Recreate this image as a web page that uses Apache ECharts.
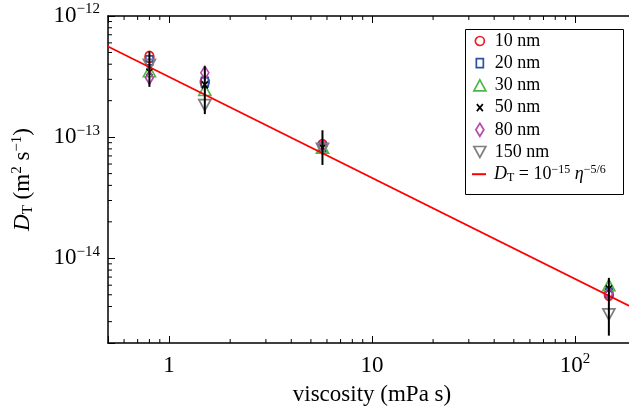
<!DOCTYPE html>
<html><head><meta charset="utf-8">
<script src="https://cdn.jsdelivr.net/npm/echarts@6/dist/echarts.min.js"></script>
<style>html,body{margin:0;padding:0;background:#fff}#c{width:629px;height:407px}</style>
</head><body><div id="c"></div>
<script>
// ---- data ----
const viscosity = [0.8, 1.5, 5.7, 147];
const dt10nm  = [4.6e-13, 2.85e-13, 8.6e-14, 5.0e-15];
const dt20nm  = [4.3e-13, 2.85e-13, 8.3e-14, 5.2e-15];
const dt30nm  = [3.5e-13, 2.45e-13, 8.2e-14, 6.0e-15];
const dt50nm  = [3.45e-13, 2.7e-13, 8.2e-14, 5.6e-15];
const dt80nm  = [3.1e-13, 3.4e-13, 8.4e-14, 5.1e-15];
const dt150nm = [3.95e-13, 1.84e-13, 8.0e-14, 3.45e-15];
const errLow  = [2.6e-13, 1.55e-13, 5.9e-14, 2.3e-15];
const errHigh = [5.1e-13, 3.85e-13, 1.14e-13, 6.9e-15];
const fitX = [0.5, 200];
const fitY = [5.6e-13, 3.8e-15];
const seriesNames = ['10 nm', '20 nm', '30 nm', '50 nm', '80 nm', '150 nm'];
const fitName = 'fit';
const xMajorTicks = [1, 10, 100];
const yMajorTicks = [1e-14, 1e-13, 1e-12];
const xMinorTicks = [0.6, 0.7, 0.8, 0.9, 2, 3, 4, 5, 6, 7, 8, 9, 20, 30, 40, 50, 60, 70, 80, 90];
const yMinorTicks = [3e-15, 4e-15, 5e-15, 6e-15, 7e-15, 8e-15, 9e-15,
  2e-14, 3e-14, 4e-14, 5e-14, 6e-14, 7e-14, 8e-14, 9e-14,
  2e-13, 3e-13, 4e-13, 5e-13, 6e-13, 7e-13, 8e-13, 9e-13];

// ---- styling ----
const FONT = "'Liberation Serif', 'Times New Roman', serif";
const seriesValues = [dt10nm, dt20nm, dt30nm, dt50nm, dt80nm, dt150nm];
const markerStyles = [
  { symbol: 'circle', size: [9, 11], color: '#ee1d23' },
  { symbol: 'rect', size: [7, 9], color: '#2d4fa6' },
  { symbol: 'triangle', size: [12, 11], color: '#4cb848' },
  { symbol: 'path://M0,0L6,7M6,0L0,7', size: [6, 7], color: '#000000' },
  { symbol: 'diamond', size: [8, 13], color: '#b44aae' },
  { symbol: 'path://M0,0L12,0L6,11Z', size: [12, 11], color: '#7f7f7f' }
];

function findMajor(v, majors) {
  for (const m of majors) { if (Math.abs(v - m) / m < 1e-6) return m; }
  return null;
}
function xLabel(v) {
  const m = findMajor(v, xMajorTicks);
  if (m === null) return '';
  const e = Math.round(Math.log10(m));
  if (e === 0) return '{b|1}';
  if (e === 1) return '{b|10}';
  return '{b|10}{s|' + e + '}';
}
function yLabel(v) {
  const m = findMajor(v, yMajorTicks);
  if (m === null) return '';
  const e = Math.round(Math.log10(m));
  return '{b|10}{s|\u2212' + (-e) + '}';
}
const labelRich = {
  b: { fontSize: 23, fontFamily: FONT, color: '#000', lineHeight: 28 },
  s: { fontSize: 15, fontFamily: FONT, color: '#000', lineHeight: 15, verticalAlign: 'top' }
};

function tickRenderer(dir) {
  return function (params, api) {
    const cs = params.coordSys;
    const p = api.coord([api.value(0), api.value(1)]);
    const st = { stroke: '#000', lineWidth: 1 };
    if (dir === 'x') {
      return { type: 'group', children: [
        { type: 'line', shape: { x1: p[0], y1: cs.y + cs.height, x2: p[0], y2: cs.y + cs.height - 4 }, style: st },
        { type: 'line', shape: { x1: p[0], y1: cs.y, x2: p[0], y2: cs.y + 4 }, style: st }
      ] };
    }
    return { type: 'group', children: [
      { type: 'line', shape: { x1: cs.x, y1: p[1], x2: cs.x + 4, y2: p[1] }, style: st },
      { type: 'line', shape: { x1: cs.x + cs.width, y1: p[1], x2: cs.x + cs.width - 4, y2: p[1] }, style: st }
    ] };
  };
}

const series = [];
seriesNames.forEach((name, i) => {
  const ms = markerStyles[i];
  series.push({
    name: name, type: 'scatter', xAxisIndex: 0, yAxisIndex: 0,
    symbol: ms.symbol, symbolSize: ms.size,
    itemStyle: { color: 'transparent', borderColor: ms.color, borderWidth: 1.7, opacity: 1 },
    emphasis: { disabled: true },
    data: viscosity.map((x, k) => [x, seriesValues[i][k]]),
    z: 2
  });
});
series.push({
  name: fitName, type: 'line', xAxisIndex: 0, yAxisIndex: 0,
  symbol: 'none', showSymbol: false, lineStyle: { color: '#ff0000', width: 1.8 },
  itemStyle: { color: '#ff0000' },
  data: fitX.map((x, k) => [x, fitY[k]]), z: 3, silent: true
});
series.push({
  type: 'custom', name: 'errorbars', xAxisIndex: 0, yAxisIndex: 0, z: 4, silent: true,
  data: viscosity.map((x, k) => [x, errLow[k], errHigh[k]]),
  encode: { x: 0, y: [1, 2] },
  renderItem: function (params, api) {
    const lo = api.coord([api.value(0), api.value(1)]);
    const hi = api.coord([api.value(0), api.value(2)]);
    return { type: 'line', shape: { x1: lo[0], y1: lo[1], x2: hi[0], y2: hi[1] }, style: { stroke: '#000', lineWidth: 2 } };
  }
});
series.push({
  type: 'custom', name: 'xminor', silent: true, z: 5, clip: false,
  data: xMinorTicks.map(v => [v, 1e-13]), encode: { x: 0, y: 1 },
  renderItem: tickRenderer('x')
});
series.push({
  type: 'custom', name: 'yminor', silent: true, z: 5, clip: false,
  data: yMinorTicks.map(v => [1, v]), encode: { x: 0, y: 1 },
  renderItem: tickRenderer('y')
});

// ---- legend: one row per entry ----
const legendRich = {
  i: { fontStyle: 'italic', fontSize: 18, fontFamily: FONT, lineHeight: 20, color: '#000' },
  sub: { fontSize: 12, fontFamily: FONT, lineHeight: 20, verticalAlign: 'bottom', color: '#000' },
  sup: { fontSize: 12, fontFamily: FONT, lineHeight: 12, verticalAlign: 'top', color: '#000' },
  r: { fontSize: 18, fontFamily: FONT, lineHeight: 20, color: '#000' }
};
const legendRows = seriesNames.concat([fitName]);
const legends = legendRows.map((name, i) => {
  const isFit = i === 6;
  const w = isFit ? 14 : markerStyles[i].size[0];
  const h = isFit ? 2 : markerStyles[i].size[1];
  const yc = 41 + i * 22.2;
  return {
    show: true, orient: 'vertical', left: 479 - w / 2, top: yc - 10, padding: 0,
    itemWidth: w, itemHeight: h, selectedMode: false, symbolKeepAspect: false,
    data: [isFit
      ? { name: name, icon: 'rect', itemStyle: { color: '#ff0000', borderWidth: 0 } }
      : { name: name, icon: markerStyles[i].symbol }],
    itemStyle: { borderWidth: 1.7 },
    textStyle: { fontSize: 18, fontFamily: FONT, color: '#000', lineHeight: 20, padding: [0, 0, 0, 10 - w / 2], rich: legendRich },
    formatter: isFit
      ? function () { return '{i|D}{sub|T}{r| = 10}{sup|\u221215}{r| }{i|\u03b7}{sup|\u22125/6}'; }
      : function (n) { return n; }
  };
});

const option = {
  animation: false,
  backgroundColor: '#ffffff',
  grid: { left: 108, top: 16, right: -7, bottom: 64, containLabel: false, outerBoundsMode: 'none' },
  xAxis: [
    { type: 'log', logBase: 10, min: 0.5, max: 200, position: 'bottom',
      name: 'viscosity (mPa s)', nameLocation: 'middle', nameGap: 40,
      nameTextStyle: { fontSize: 23, fontFamily: FONT, color: '#000' },
      axisLine: { show: true, lineStyle: { color: '#000', width: 1.5 } },
      axisTick: { show: true, inside: true, length: 7, lineStyle: { color: '#000', width: 1 } },
      axisLabel: { show: true, margin: 9, formatter: xLabel, rich: labelRich, showMinLabel: true, showMaxLabel: true, hideOverlap: false },
      splitLine: { show: false }, minorTick: { show: false } },
    { type: 'log', logBase: 10, min: 0.5, max: 200, position: 'top',
      axisLine: { show: true, lineStyle: { color: '#000', width: 1.5 } },
      axisTick: { show: true, inside: true, length: 7, lineStyle: { color: '#000', width: 1 } },
      axisLabel: { show: false }, splitLine: { show: false } }
  ],
  yAxis: [
    { type: 'log', logBase: 10, min: 2e-15, max: 1e-12, position: 'left',
      name: '{i|D}{sub|T}{r| (m}{sup|2}{r| s}{sup|\u22121}{r|)}', nameLocation: 'middle', nameGap: 72, nameRotate: 90,
      nameTextStyle: { fontSize: 23, fontFamily: FONT, color: '#000', rich: {
        i: { fontStyle: 'italic', fontSize: 23, fontFamily: FONT, color: '#000', lineHeight: 26 },
        sub: { fontSize: 15, fontFamily: FONT, color: '#000', lineHeight: 26, verticalAlign: 'bottom' },
        sup: { fontSize: 15, fontFamily: FONT, color: '#000', lineHeight: 15, verticalAlign: 'top' },
        r: { fontSize: 23, fontFamily: FONT, color: '#000', lineHeight: 26 } } },
      axisLine: { show: true, lineStyle: { color: '#000', width: 1.5 } },
      axisTick: { show: true, inside: true, length: 7, lineStyle: { color: '#000', width: 1 } },
      axisLabel: { show: true, margin: 8, formatter: yLabel, rich: labelRich, hideOverlap: false },
      splitLine: { show: false }, minorTick: { show: false } },
    { type: 'log', logBase: 10, min: 2e-15, max: 1e-12, position: 'right',
      axisLine: { show: true, lineStyle: { color: '#000', width: 1.5 } },
      axisTick: { show: true, inside: true, length: 7, lineStyle: { color: '#000', width: 1 } },
      axisLabel: { show: false }, splitLine: { show: false } }
  ],
  legend: legends,
  graphic: [{
    type: 'rect', left: 463, top: 27, shape: { width: 158, height: 165 },
    style: { fill: 'none', stroke: '#000', lineWidth: 1 }, z: 10, silent: true
  }],
  series: series
};
const chart = echarts.init(document.getElementById('c'), null, { renderer: 'canvas' });
chart.setOption(option);
</script></body></html>
